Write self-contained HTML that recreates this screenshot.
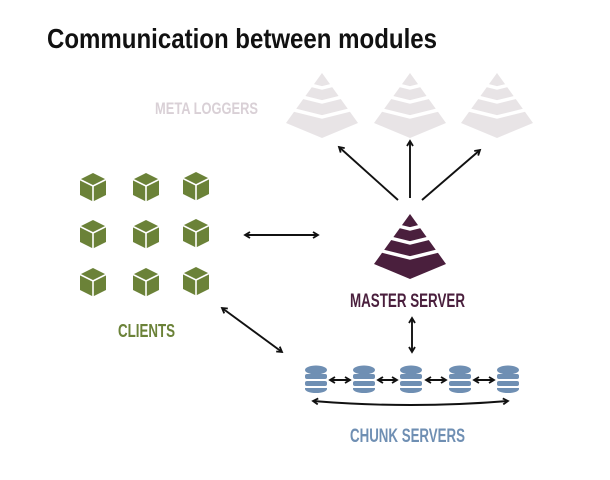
<!DOCTYPE html>
<html><head><style>body{margin:0;background:#fff}svg{display:block}text{font-family:"Liberation Sans Narrow","Liberation Sans",sans-serif;font-weight:bold}</style></head><body>
<svg width="610" height="480" viewBox="0 0 610 480" xmlns="http://www.w3.org/2000/svg">
<defs>
<marker id="a" markerWidth="8" markerHeight="8" refX="6" refY="4" orient="auto-start-reverse" markerUnits="userSpaceOnUse"><path d="M1,1 L6,4 L1,7" fill="none" stroke="#111" stroke-width="1.8"/></marker>
<g id="pyr"><polygon points="0,0 -36,50 0,65 36,50"/><g fill="none" stroke="#fff" stroke-width="3.5"><polyline points="-60,0 0,15 60,0"/><polyline points="-60,14 0,29 60,14"/><polyline points="-60,29 0,44 60,29"/></g></g>
<g id="cube"><polygon points="0,-14 13,-7.5 13,8 0,14.5 -13,8 -13,-7.5" fill="#6b8238"/><polyline points="-13,-7.5 0,-1 13,-7.5" fill="none" stroke="#fff" stroke-width="1.6"/><line x1="0" y1="-1" x2="0" y2="14.5" stroke="#fff" stroke-width="1.6"/></g>
<g id="db" fill="#6f8fb3"><ellipse cx="0" cy="-8" rx="11" ry="4.5"/><rect x="-11" y="-4" width="22" height="5" rx="2"/><rect x="-11" y="3" width="22" height="5" rx="2"/><path d="M-11,10 h22 v1 a11,4 0 0 1 -22,0z"/></g>
</defs>
<text x="47" y="48" font-size="28" fill="#111" textLength="390" lengthAdjust="spacingAndGlyphs">Communication between modules</text>
<g fill="#e8e4e6"><use href="#pyr" transform="translate(322,73)"/><use href="#pyr" transform="translate(410,73)"/><use href="#pyr" transform="translate(497,73)"/></g>
<text x="155" y="114" font-size="17" fill="#d9d0d6" textLength="103" lengthAdjust="spacingAndGlyphs">META LOGGERS</text>
<g fill="#4a1f3d"><use href="#pyr" transform="translate(410,214)"/></g>
<text x="350" y="307" font-size="19" fill="#4a1f3d" textLength="115" lengthAdjust="spacingAndGlyphs">MASTER SERVER</text>
<g><use href="#cube" transform="translate(93,187)"/><use href="#cube" transform="translate(146,187)"/><use href="#cube" transform="translate(196,186)"/><use href="#cube" transform="translate(93,234)"/><use href="#cube" transform="translate(146,234)"/><use href="#cube" transform="translate(196,233)"/><use href="#cube" transform="translate(93,282)"/><use href="#cube" transform="translate(146,282)"/><use href="#cube" transform="translate(196,281)"/></g>
<text x="118" y="337" font-size="18" fill="#6b8238" textLength="57" lengthAdjust="spacingAndGlyphs">CLIENTS</text>
<g><use href="#db" transform="translate(316,378)"/><use href="#db" transform="translate(364,378)"/><use href="#db" transform="translate(411,378)"/><use href="#db" transform="translate(460,378)"/><use href="#db" transform="translate(508,378)"/></g>
<text x="350" y="442" font-size="19" fill="#6f8fb3" textLength="115" lengthAdjust="spacingAndGlyphs">CHUNK SERVERS</text>
<g stroke="#111" stroke-width="1.9" fill="none">
<line x1="245" y1="235" x2="318" y2="235" marker-start="url(#a)" marker-end="url(#a)"/>
<line x1="222" y1="308" x2="282" y2="352" marker-start="url(#a)" marker-end="url(#a)"/>
<line x1="412" y1="318" x2="412" y2="352" marker-start="url(#a)" marker-end="url(#a)"/>
<line x1="398" y1="200" x2="339" y2="147" marker-end="url(#a)"/>
<line x1="410" y1="198" x2="410" y2="141" marker-end="url(#a)"/>
<line x1="422" y1="200" x2="480" y2="150" marker-end="url(#a)"/>
<line x1="330" y1="380" x2="350" y2="380" marker-start="url(#a)" marker-end="url(#a)"/>
<line x1="378" y1="380" x2="397" y2="380" marker-start="url(#a)" marker-end="url(#a)"/>
<line x1="426" y1="380" x2="446" y2="380" marker-start="url(#a)" marker-end="url(#a)"/>
<line x1="474" y1="380" x2="494" y2="380" marker-start="url(#a)" marker-end="url(#a)"/>
<path d="M313,401 Q411,409 508,401" marker-start="url(#a)" marker-end="url(#a)"/>
</g>
</svg>
</body></html>
